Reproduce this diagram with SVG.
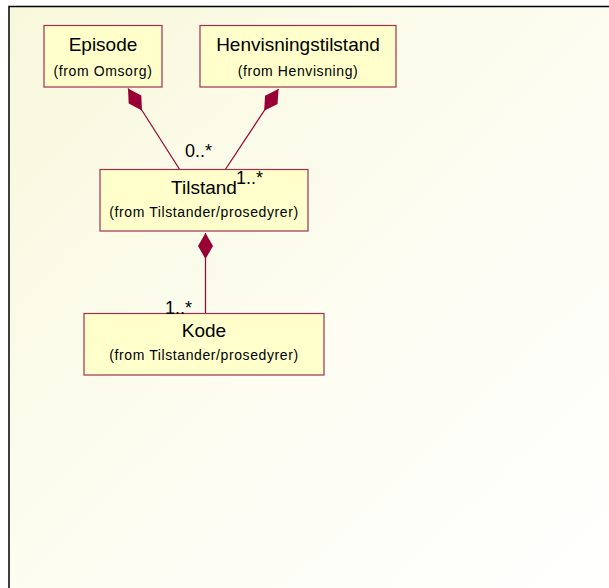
<svg xmlns="http://www.w3.org/2000/svg" width="609" height="588" viewBox="0 0 609 588">
  <defs>
    <linearGradient id="bg" x1="0" y1="0" x2="1" y2="1">
      <stop offset="0" stop-color="#f8f8dc"/>
      <stop offset="0.55" stop-color="#fdfdf3"/>
      <stop offset="1" stop-color="#ffffff"/>
    </linearGradient>
    <!-- filled diamond for composition ends -->
    <marker id="diamond" markerUnits="userSpaceOnUse" markerWidth="28" markerHeight="16" refX="0" refY="8" orient="auto" overflow="visible">
      <path d="M0,8 L13,0.5 L26,8 L13,15.5 Z" fill="#990033"/>
    </marker>
  </defs>
  <style>
    .box { fill: #ffffcc; stroke: #a03050; stroke-width: 1.2; }
    .title { font-family: "Liberation Sans", Arial, sans-serif; font-size: 19px; fill: #000; text-anchor: middle; }
    .sub { font-family: "Liberation Sans", Arial, sans-serif; font-size: 14px; letter-spacing: 0.6px; fill: #000; text-anchor: middle; }
    .mult { font-family: "Liberation Sans", Arial, sans-serif; font-size: 18px; fill: #000; }
    .conn { stroke: #990033; stroke-width: 1.2; fill: none; marker-start: url(#diamond); }
  </style>

  <rect x="0" y="0" width="609" height="588" fill="#ffffff"/>
  <!-- drawing frame -->
  <rect x="9" y="6.5" width="620" height="600" fill="url(#bg)" stroke="#000" stroke-width="1.5"/>

  <g id="connectors">
    <path class="conn" d="M128,88.5 L180,170"/>
    <path class="conn" d="M278.5,89 L225,170"/>
    <path class="conn" d="M205.5,233 L205.5,313"/>
  </g>

  <g id="episode">
    <rect class="box" x="44" y="25.5" width="118" height="61.5"/>
    <text class="title" x="103" y="51">Episode</text>
    <text class="sub" x="103" y="76">(from Omsorg)</text>
  </g>

  <g id="henvisningstilstand">
    <rect class="box" x="200" y="25.5" width="196" height="61.5"/>
    <text class="title" x="298" y="51">Henvisningstilstand</text>
    <text class="sub" x="298" y="76">(from Henvisning)</text>
  </g>

  <g id="tilstand">
    <rect class="box" x="100" y="169.5" width="208" height="61.5"/>
    <text class="title" x="204" y="194">Tilstand</text>
    <text class="sub" x="204" y="217">(from Tilstander/prosedyrer)</text>
  </g>

  <g id="kode">
    <rect class="box" x="84" y="313.5" width="240" height="61.5"/>
    <text class="title" x="204" y="337">Kode</text>
    <text class="sub" x="204" y="360">(from Tilstander/prosedyrer)</text>
  </g>

  <g id="multiplicities">
    <text class="mult" x="185" y="157">0..*</text>
    <text class="mult" x="236" y="184">1..*</text>
    <text class="mult" x="165" y="314">1..*</text>
  </g>
</svg>
